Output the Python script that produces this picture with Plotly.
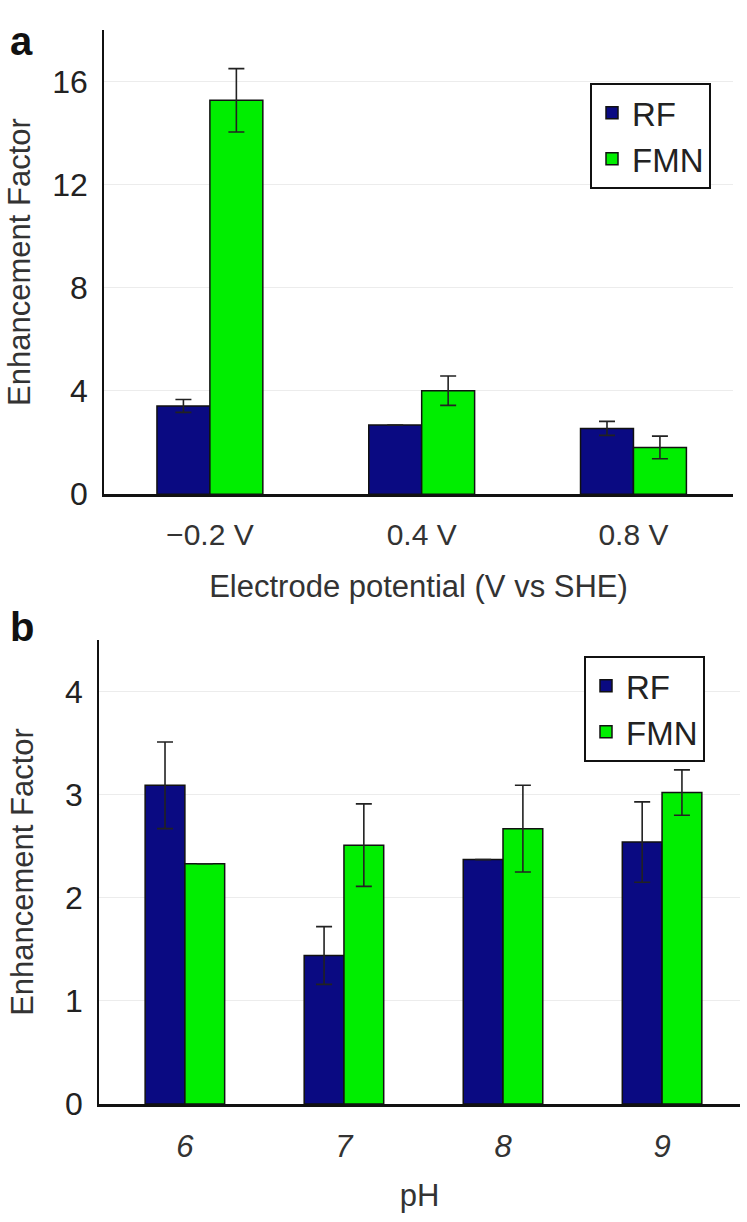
import plotly.graph_objects as go

# Panel a data
pot_labels = ["−0.2 V", "0.4 V", "0.8 V"]
rf_a = [3.42, 2.68, 2.55]
rf_a_err = [0.25, None, 0.27]
fmn_a = [15.27, 4.01, 1.81]
fmn_a_err = [1.23, 0.57, 0.44]

# Panel b data
ph_labels = ["6", "7", "8", "9"]
rf_b = [3.09, 1.44, 2.37, 2.54]
rf_b_err = [0.42, 0.28, None, 0.39]
fmn_b = [2.33, 2.51, 2.67, 3.02]
fmn_b_err = [None, 0.40, 0.42, 0.22]

RF_COLOR = "#0a0a82"
FMN_COLOR = "#00ee00"
FONT = "Arial, Liberation Sans, sans-serif"
TXT = "#222222"

W, H = 747, 1222
SY = 0.987  # observed vertical scale of the capture


def err(arr):
    return dict(type="data", array=arr, visible=True, color="#222", thickness=1.6, width=8)


fig = go.Figure()
fig.add_trace(go.Bar(x=pot_labels, y=rf_a, name="RF", marker=dict(color=RF_COLOR, line=dict(color="#111", width=1.5)),
                     error_y=err(rf_a_err), xaxis="x", yaxis="y", legend="legend"))
fig.add_trace(go.Bar(x=pot_labels, y=fmn_a, name="FMN", marker=dict(color=FMN_COLOR, line=dict(color="#111", width=1.5)),
                     error_y=err(fmn_a_err), xaxis="x", yaxis="y", legend="legend"))
fig.add_trace(go.Bar(x=ph_labels, y=rf_b, name="RF", marker=dict(color=RF_COLOR, line=dict(color="#111", width=1.5)),
                     error_y=err(rf_b_err), xaxis="x2", yaxis="y2", legend="legend2"))
fig.add_trace(go.Bar(x=ph_labels, y=fmn_b, name="FMN", marker=dict(color=FMN_COLOR, line=dict(color="#111", width=1.5)),
                     error_y=err(fmn_b_err), xaxis="x2", yaxis="y2", legend="legend2"))


def px_x(p):
    return p / W


def px_y(p):
    return 1 - (p / SY) / H


axis_common = dict(showline=True, linecolor="#111", ticks="", zeroline=False)

fig.update_layout(
    width=W, height=H,
    margin=dict(l=0, r=0, t=0, b=0),
    paper_bgcolor="white", plot_bgcolor="white",
    font=dict(family=FONT, color=TXT, size=28),
    barmode="group", bargap=0.5, bargroupgap=0,
    xaxis=dict(domain=[px_x(104), px_x(733)], anchor="y", type="category",
               range=[-0.5, 2.47], linewidth=2.5, showgrid=False,
               tickfont=dict(size=30, color="#333"), ticklabelstandoff=12,
               title=dict(text="Electrode potential (V vs SHE)", font=dict(size=31, color="#333"), standoff=26),
               **axis_common),
    yaxis=dict(domain=[px_y(495), px_y(30)], anchor="x", range=[0, 18],
               tickvals=[0, 4, 8, 12, 16], linewidth=1.5, showgrid=True, gridcolor="#ececec",
               tickfont=dict(size=32, color="#222"), ticklabelstandoff=8,
               title=dict(text="Enhancement Factor", font=dict(size=31, color="#333"), standoff=12),
               **axis_common),
    xaxis2=dict(domain=[px_x(99), px_x(740)], anchor="y2", type="category",
                range=[-0.54, 3.49], linewidth=2.5, showgrid=False,
                tickfont=dict(size=31, color="#333", style="italic"), ticklabelstandoff=13,
                title=dict(text="pH", font=dict(size=31, color="#333"), standoff=22),
                **axis_common),
    yaxis2=dict(domain=[px_y(1106), px_y(641)], anchor="x2", range=[0, 4.5],
                tickvals=[0, 1, 2, 3, 4], linewidth=1.5, showgrid=True, gridcolor="#ececec",
                tickfont=dict(size=32, color="#222"), ticklabelstandoff=8,
                title=dict(text="Enhancement Factor", font=dict(size=31, color="#333"), standoff=22),
                **axis_common),
    legend=dict(x=px_x(590), y=px_y(83), xanchor="left", yanchor="top",
                bordercolor="#111", borderwidth=2, bgcolor="white",
                font=dict(size=33, color="#222"), tracegroupgap=0, itemwidth=30),
    legend2=dict(x=px_x(584), y=px_y(657), xanchor="left", yanchor="top",
                 bordercolor="#111", borderwidth=2, bgcolor="white",
                 font=dict(size=33, color="#222"), tracegroupgap=0, itemwidth=30),
    annotations=[
        dict(text="<b>a</b>", x=px_x(8), y=px_y(17), xref="paper", yref="paper",
             xanchor="left", yanchor="top", showarrow=False, font=dict(size=40, color="#111")),
        dict(text="<b>b</b>", x=px_x(8), y=px_y(604), xref="paper", yref="paper",
             xanchor="left", yanchor="top", showarrow=False, font=dict(size=40, color="#111")),
    ],
)

fig.write_html("out.html", post_script="document.body.style.margin='0px';",
               config={"displayModeBar": False})
